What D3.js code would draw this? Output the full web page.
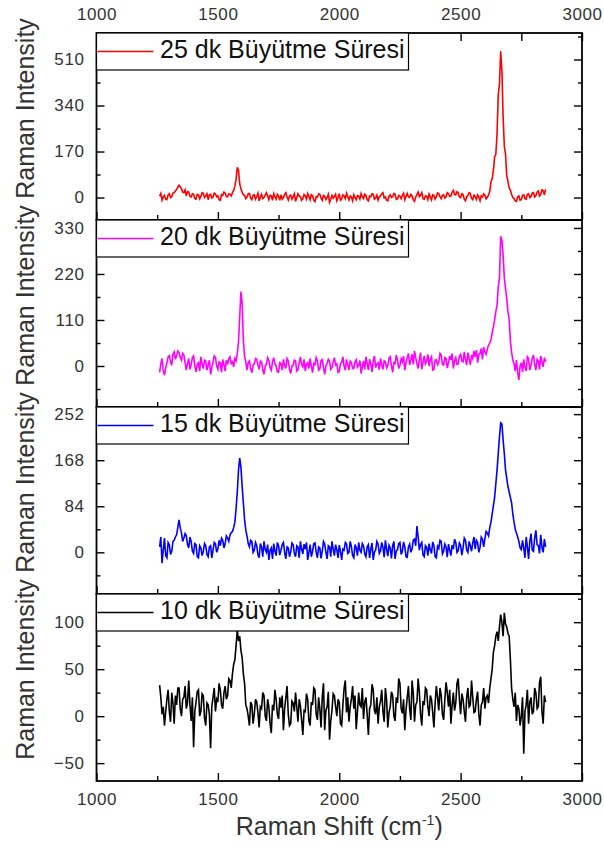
<!DOCTYPE html>
<html>
<head>
<meta charset="utf-8">
<script src="https://cdn.jsdelivr.net/npm/d3@7"></script>
<style>
  html, body { margin: 0; padding: 0; background: #fff; }
  svg { display: block; font-family: "Liberation Sans", Arial, sans-serif; }
</style>
</head>
<body>
<svg id="chart" width="604" height="857"></svg>
<script>
// Raman shift grid (cm^-1), 5 cm^-1 spacing
const shift = [
  1260,1265,1270,1275,1280,1285,1290,1295,1300,1305,1310,1315,1320,1325,1330,1335,1340,1345,1350,1355,
  1360,1365,1370,1375,1380,1385,1390,1395,1400,1405,1410,1415,1420,1425,1430,1435,1440,1445,1450,1455,
  1460,1465,1470,1475,1480,1485,1490,1495,1500,1505,1510,1515,1520,1525,1530,1535,1540,1545,1550,1555,
  1560,1565,1570,1575,1580,1585,1590,1595,1600,1605,1610,1615,1620,1625,1630,1635,1640,1645,1650,1655,
  1660,1665,1670,1675,1680,1685,1690,1695,1700,1705,1710,1715,1720,1725,1730,1735,1740,1745,1750,1755,
  1760,1765,1770,1775,1780,1785,1790,1795,1800,1805,1810,1815,1820,1825,1830,1835,1840,1845,1850,1855,
  1860,1865,1870,1875,1880,1885,1890,1895,1900,1905,1910,1915,1920,1925,1930,1935,1940,1945,1950,1955,
  1960,1965,1970,1975,1980,1985,1990,1995,2000,2005,2010,2015,2020,2025,2030,2035,2040,2045,2050,2055,
  2060,2065,2070,2075,2080,2085,2090,2095,2100,2105,2110,2115,2120,2125,2130,2135,2140,2145,2150,2155,
  2160,2165,2170,2175,2180,2185,2190,2195,2200,2205,2210,2215,2220,2225,2230,2235,2240,2245,2250,2255,
  2260,2265,2270,2275,2280,2285,2290,2295,2300,2305,2310,2315,2320,2325,2330,2335,2340,2345,2350,2355,
  2360,2365,2370,2375,2380,2385,2390,2395,2400,2405,2410,2415,2420,2425,2430,2435,2440,2445,2450,2455,
  2460,2465,2470,2475,2480,2485,2490,2495,2500,2505,2510,2515,2520,2525,2530,2535,2540,2545,2550,2555,
  2560,2565,2570,2575,2580,2585,2590,2595,2600,2605,2610,2615,2620,2625,2630,2635,2640,2645,2650,2655,
  2660,2665,2670,2675,2680,2685,2690,2695,2700,2705,2710,2715,2720,2725,2730,2735,2740,2745,2750,2755,
  2760,2765,2770,2775,2780,2785,2790,2795,2800,2805,2810,2815,2820,2825,2830,2835,2840,2845,2850
];

// Intensities for each growth time
const sample25 = [
  5,15,-10,2,8,-6,-8,10,14,0,4,16,18,24,30,38,46,40,32,20,
  18,28,6,22,20,4,2,14,12,-4,-6,12,10,-5,4,18,16,0,6,14,
  -8,10,12,-2,2,16,14,3,6,-8,-10,11,8,20,16,4,3,14,12,6,
  18,26,42,68,112,100,50,32,20,10,8,-4,2,14,15,-2,-8,8,10,-6,
  4,16,-12,2,12,-4,0,10,18,6,-8,8,6,-10,14,2,-6,12,6,-10,
  10,-6,0,12,18,2,-9,6,9,-6,2,14,-14,0,14,6,3,-10,-4,11,
  6,-6,15,4,-8,11,8,-10,-15,3,2,14,12,-2,-10,8,5,-7,0,12,
  -18,-6,8,-2,4,12,-12,0,14,-10,-5,10,6,-4,16,3,-9,6,2,-12,
  10,0,-8,7,5,-6,15,3,-4,12,8,-8,-12,5,3,14,12,-6,-2,9,
  -10,3,6,14,18,-2,2,-10,-12,5,10,0,3,15,12,-7,-5,8,5,-4,
  8,16,-8,4,15,2,0,12,6,-9,-14,2,11,20,3,9,18,-4,-6,6,
  5,-8,13,2,-9,10,8,-6,2,17,15,3,-4,8,10,-2,3,18,14,4,
  6,20,26,12,10,22,18,2,0,14,11,-6,-12,3,8,18,15,-3,-8,9,
  4,-7,10,2,-12,6,3,14,8,-5,1,10,22,58,70,100,150,160,235,380,
  420,540,470,300,190,160,80,60,35,28,12,0,-4,-12,-14,2,6,-10,-8,8,
  10,-4,-6,12,14,0,4,16,18,2,6,20,24,6,12,28,26,10,30
];
const sample20 = [
  -15,5,18,-12,-22,-5,8,22,25,10,2,28,34,16,26,36,32,20,14,30,
  26,8,-10,6,18,-8,3,20,24,0,-14,4,8,-12,22,5,-6,14,12,-10,
  2,14,-20,-4,10,24,20,0,-8,10,8,-15,16,3,-12,14,4,18,22,6,
  10,-2,18,12,30,58,118,178,150,62,22,10,-10,8,12,-6,-16,2,5,18,
  16,2,-8,12,9,-9,-20,0,4,20,14,-4,-10,10,20,5,0,-14,-15,8,
  6,-10,16,2,-6,18,12,-8,-18,0,2,14,12,-12,-9,8,22,3,-2,16,
  -12,5,8,-6,18,0,-16,6,3,20,12,-10,-7,13,15,-4,-20,0,6,16,
  12,-8,-4,10,20,2,5,-15,-13,6,9,22,0,-10,16,3,-9,12,8,-6,
  -6,10,15,-3,2,13,-18,-2,12,-8,22,6,-10,16,4,-14,12,24,-4,5,
  8,-9,18,3,-8,12,10,-5,1,19,22,0,-15,8,6,26,14,-6,2,18,
  10,24,-10,8,20,30,3,15,28,4,36,20,6,-6,16,32,-8,10,24,5,
  12,28,0,16,22,-10,-8,14,15,3,9,30,26,4,2,20,18,-5,8,24,
  14,30,-6,12,20,4,5,24,28,12,10,34,16,2,32,18,3,26,18,36,
  22,38,8,28,30,42,16,45,34,28,40,50,55,62,80,94,110,130,145,190,
  210,310,300,265,210,185,160,130,110,60,32,15,5,-12,14,-16,-33,0,8,-14,
  16,-4,-12,22,18,-10,2,18,26,4,-10,16,12,-8,24,10,-2,20,10
];
const sample15 = [
  10,28,-20,4,26,-6,-10,18,14,-4,2,20,22,28,32,46,59,44,36,20,
  26,34,30,14,8,28,20,2,-2,16,14,-8,-10,12,8,-6,2,16,12,-4,
  -8,10,12,-10,4,18,16,0,6,22,12,26,22,8,16,30,26,20,32,36,
  38,45,55,80,110,150,172,155,120,90,60,40,30,16,10,22,20,0,4,18,
  12,-4,-10,16,10,-8,20,5,0,14,-14,4,8,-12,16,2,-6,18,12,-5,
  4,14,18,0,-12,10,8,-8,1,17,14,-2,-8,12,10,-10,20,6,-3,15,
  6,18,-14,0,14,-8,2,16,17,0,-10,10,8,-11,2,20,15,0,-12,12,
  10,-8,20,6,-6,14,5,-10,13,2,-14,6,4,18,15,-2,0,20,11,-6,
  -10,14,8,-6,18,4,0,16,12,-3,-8,10,14,-10,6,17,-14,1,4,20,
  15,-2,3,18,9,-9,22,6,-7,13,8,-11,12,20,-12,2,5,16,18,-4,
  2,19,11,-8,-9,10,15,0,6,22,24,12,48,28,4,14,18,-5,-8,12,
  9,-6,16,4,-2,19,12,-8,-10,11,7,22,20,-3,2,15,10,-9,15,4,
  -6,13,6,24,18,0,3,17,13,-5,8,26,22,4,0,20,12,2,17,28,
  6,22,18,0,9,28,24,10,25,38,35,30,45,55,70,85,100,125,150,180,
  210,236,234,205,180,150,135,120,110,100,90,70,55,42,35,28,20,8,5,22,
  8,-10,28,10,-12,20,34,4,2,26,40,14,12,-2,32,9,0,24,10
];
const sample10 = [
  33,20,2,10,-10,5,18,28,5,-6,25,14,-8,22,12,30,30,8,0,18,
  20,32,8,15,38,12,-5,20,-33,5,15,26,28,0,5,24,22,-2,-10,14,
  12,2,-34,10,20,30,5,18,15,35,28,12,8,25,32,18,22,40,38,30,
  45,55,60,75,92,80,85,70,62,45,35,12,8,0,-10,15,12,-8,2,18,
  15,4,-12,10,8,25,22,0,-5,18,10,-8,-18,12,6,28,18,2,-3,20,
  9,22,-15,8,20,32,2,-10,-8,16,14,5,25,10,-6,18,11,-4,-20,6,
  5,24,18,-5,-10,15,12,30,28,2,-4,20,8,-12,20,35,-15,6,10,26,
  -25,-5,6,24,22,10,0,18,15,-8,-10,12,30,38,4,20,-6,10,18,32,
  8,22,-14,5,25,12,10,30,-3,15,20,2,-20,8,12,34,28,6,2,20,
  -8,10,16,28,5,-6,30,18,-12,4,10,26,22,0,-5,20,14,40,35,8,
  3,18,-15,6,20,32,8,-4,38,24,-6,12,15,40,25,2,-10,16,12,30,
  28,10,0,22,18,4,-12,14,32,20,6,30,22,2,-4,18,36,25,10,28,
  -8,12,25,6,14,35,40,18,2,24,18,5,-6,20,30,10,12,38,20,4,
  5,18,26,2,-10,12,15,30,8,20,22,14,30,40,50,68,75,85,90,80,
  95,108,100,85,110,98,95,88,85,60,30,18,10,25,-5,12,8,-10,0,20,
  -40,5,12,28,-8,15,20,2,5,30,25,8,10,36,42,5,-8,22,15
];

const seriesLabels = ["25 dk Büyütme Süresi", "20 dk Büyütme Süresi", "15 dk Büyütme Süresi", "10 dk Büyütme Süresi"];
const seriesColors = ["#ff0000", "#ff00ff", "#0000ff", "#000000"];
const seriesValues = [sample25, sample20, sample15, sample10];

const yDomains = [[-83, 608], [-98, 349], [-76, 265], [-69, 130]];
const yMajorTicks = [[0, 170, 340, 510], [0, 110, 220, 330], [0, 84, 168, 252], [-50, 0, 50, 100]];
const yMinorTicks = [[85, 255, 425, 595], [-55, 55, 165, 275], [-42, 42, 126, 210], [-25, 25, 75, 125]];
const xMajorTicks = [1000, 1500, 2000, 2500, 3000];
const xMinorTicks = [1250, 1750, 2250, 2750];

const xTitle = "Raman Shift (cm";
const yTitle = "Raman Intensity";

// Layout
const plotLeft = 96.5, plotRight = 582, plotTop = 33, panelH = 187;
const svg = d3.select("#chart");
const fmt = d3.format("d");

const x = d3.scaleLinear().domain([1000, 3000]).range([plotLeft, plotRight]);

const tickFont = g => g.selectAll("text")
  .attr("font-size", 17)
  .attr("fill", "#333")
  .attr("letter-spacing", "0.6px")
  .attr("font-family", "'Liberation Sans', Arial, sans-serif");

const clean = g => { g.select(".domain").remove(); g.selectAll("line").attr("stroke", "#000").attr("stroke-width", 1.4); };

seriesValues.forEach((vals, i) => {
  const y0 = plotTop + i * panelH, y1 = y0 + panelH;
  const y = d3.scaleLinear().domain(yDomains[i]).range([y1, y0]);
  const g = svg.append("g");

  // spectrum
  const line = d3.line().x((d, k) => x(shift[k])).y(d => y(d));
  g.append("path")
    .datum(vals)
    .attr("fill", "none")
    .attr("stroke", seriesColors[i])
    .attr("stroke-width", 1.6)
    .attr("stroke-linejoin", "miter")
    .attr("d", line);

  // left axis: labelled major ticks + minor ticks, pointing inward
  g.append("g").attr("transform", `translate(${plotLeft},0)`)
    .call(d3.axisLeft(y).tickValues(yMajorTicks[i]).tickFormat(fmt).tickSize(-8).tickPadding(12))
    .call(clean).call(tickFont);
  g.append("g").attr("transform", `translate(${plotLeft},0)`)
    .call(d3.axisLeft(y).tickValues(yMinorTicks[i]).tickSize(-4).tickFormat(""))
    .call(clean);

  // right axis
  g.append("g").attr("transform", `translate(${plotRight},0)`)
    .call(d3.axisRight(y).tickValues(yMajorTicks[i]).tickSize(-8).tickFormat(""))
    .call(clean);
  g.append("g").attr("transform", `translate(${plotRight},0)`)
    .call(d3.axisRight(y).tickValues(yMinorTicks[i]).tickSize(-4).tickFormat(""))
    .call(clean);

  // bottom axis of each panel, ticks pointing up
  const bottom = d3.axisBottom(x).tickValues(xMajorTicks).tickSize(-8).tickPadding(12)
    .tickFormat(i < 3 ? "" : fmt);
  const gb = g.append("g").attr("transform", `translate(0,${y1})`).call(bottom).call(clean);
  if (i === 3) gb.call(tickFont);
  g.append("g").attr("transform", `translate(0,${y1})`)
    .call(d3.axisBottom(x).tickValues(xMinorTicks).tickSize(-5).tickFormat(""))
    .call(clean);

  // top axis on the first panel only
  if (i === 0) {
    g.append("g").attr("transform", `translate(0,${y0})`)
      .call(d3.axisTop(x).tickValues(xMajorTicks).tickFormat(fmt).tickSize(-8).tickPadding(13.5))
      .call(clean).call(tickFont);
    g.append("g").attr("transform", `translate(0,${y0})`)
      .call(d3.axisTop(x).tickValues(xMinorTicks).tickSize(-8).tickFormat(""))
      .call(clean);
  }

  // panel frame
  g.append("rect")
    .attr("x", plotLeft).attr("y", y0)
    .attr("width", plotRight - plotLeft).attr("height", panelH)
    .attr("fill", "none").attr("stroke", "#000").attr("stroke-width", 1.8);

  // legend box
  const lg = g.append("g").attr("transform", `translate(${plotLeft},${y0})`);
  lg.append("rect")
    .attr("x", 0).attr("y", 0).attr("width", 312).attr("height", 37)
    .attr("fill", "#fff").attr("stroke", "#000").attr("stroke-width", 1.2);
  lg.append("line")
    .attr("x1", 1).attr("x2", 57).attr("y1", 18.5).attr("y2", 18.5)
    .attr("stroke", seriesColors[i]).attr("stroke-width", 1.6);
  lg.append("text")
    .attr("x", 63.5).attr("y", 24.5)
    .attr("font-size", 25).attr("fill", "#111")
    .text(seriesLabels[i]);

  // y-axis title
  svg.append("text")
    .attr("transform", `translate(34,${y0 + panelH / 2 - 18}) rotate(-90)`)
    .attr("text-anchor", "middle")
    .attr("font-size", 25).attr("fill", "#333")
    .text(yTitle);
});

// x-axis title with superscript
const xt = svg.append("text")
  .attr("x", (plotLeft + plotRight) / 2).attr("y", 835)
  .attr("text-anchor", "middle")
  .attr("font-size", 25).attr("fill", "#333");
xt.append("tspan").text(xTitle);
xt.append("tspan").attr("font-size", 14).attr("dy", -10).text("-1");
xt.append("tspan").attr("dy", 10).text(")");
</script>
</body>
</html>
